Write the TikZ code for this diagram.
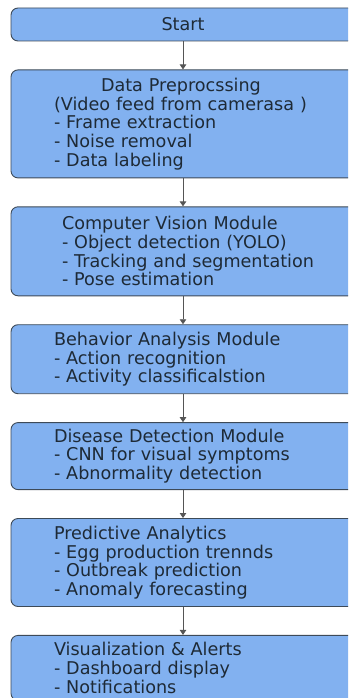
\documentclass[tikz,border=0pt]{standalone}
\usepackage{fontspec}
\setmainfont{DejaVu Sans}
\usetikzlibrary{positioning,arrows.meta}
\definecolor{boxfill}{HTML}{82B1F0}
\definecolor{boxline}{HTML}{3D4A58}
\definecolor{boxtext}{HTML}{1E2A36}
\definecolor{arrowgray}{HTML}{555555}
\tikzset{
    stage/.style = {
        draw = boxline,
        fill = boxfill,
        text = boxtext,
        line width = 0.9pt,
        rounded corners = 7pt,
        font = \fontsize{17.6}{18.7}\selectfont,
        },
    stage list/.style = {
        stage,
        align = left,
        text width = 280pt,
        inner xsep = 43pt,
        inner ysep = 0pt,
        anchor = north west,
        },
    flow/.style = {
        draw = arrowgray,
        line width = 0.9pt,
        -{Triangle[length=5pt,width=6.5pt]},
        },
}

\begin{document}
\begin{tikzpicture}[x=1pt,y=1pt]
            \path[use as bounding box, clip] (0,0) rectangle (348,-698);

            \node[stage, minimum width=344pt, minimum height=33pt] (S) at (183,-24.5) {Start};
            \node[stage list, below=28pt of S.south west, anchor=north west, minimum height=108pt] (P)
                {\hspace*{47pt}Data Preprocssing\\(Video feed from camerasa )\\- Frame extraction\\- Noise removal\\- Data labeling};
            \node[stage list, below=28pt of P.south west, anchor=north west, minimum height=89pt, inner xsep=51pt] (V)
                {Computer Vision Module\\- Object detection (YOLO)\\- Tracking and segmentation\\- Pose estimation};
            \node[stage list, below=28pt of V.south west, anchor=north west, minimum height=69pt] (B)
                {Behavior Analysis Module\\- Action recognition\\- Activity classificalstion};
            \node[stage list, below=28pt of B.south west, anchor=north west, minimum height=67pt] (D)
                {Disease Detection Module\\- CNN for visual symptoms\\- Abnormality detection};
            \node[stage list, below=28pt of D.south west, anchor=north west, minimum height=88pt] (A)
                {Predictive Analytics\\- Egg production trennds\\- Outbreak prediction\\- Anomaly forecasting};
            \node[stage list, below=28pt of A.south west, anchor=north west, minimum height=65pt] (N)
                {Visualization \& Alerts\\- Dashboard display\\- Notifications};

            \path (S.south) edge[flow] (S |- P.north);
            \path (P.south -| S) edge[flow] (S |- V.north);
            \path (V.south -| S) edge[flow] (S |- B.north);
            \path (B.south -| S) edge[flow] (S |- D.north);
            \path (D.south -| S) edge[flow] (S |- A.north);
            \path (A.south -| S) edge[flow] (S |- N.north);
        \end{tikzpicture}
\end{document}
